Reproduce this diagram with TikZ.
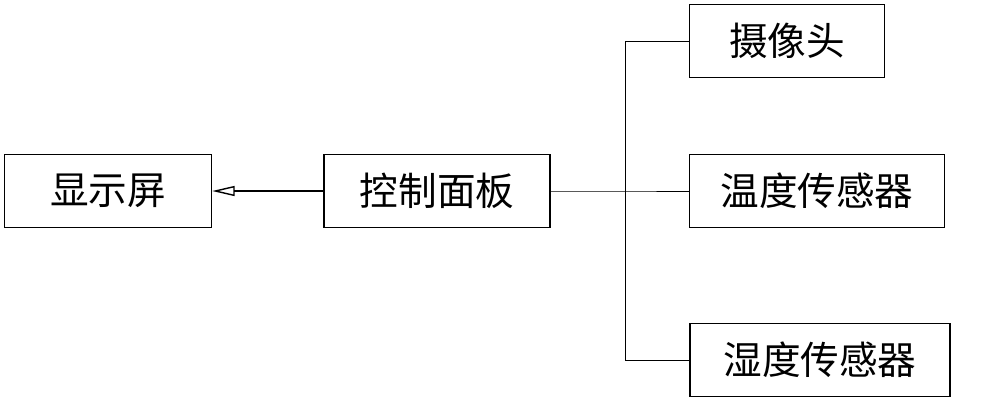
\documentclass[tikz,border=0pt]{standalone}
\usepackage{fontspec}
\newfontfamily\cjk{Noto Sans CJK SC}
\usetikzlibrary{arrows.meta}
\begin{document}
\begin{tikzpicture}[x=0.02cm,y=-0.02cm]
        \tikzset{blk/.style={draw,thick,inner sep=0pt,minimum height=1.46cm,font=\cjk\fontsize{22}{24}\selectfont}}
        \useasboundingbox (0,0) rectangle (1000,403);

        \node [blk,minimum width=4.14cm](disp)at(108,191){显示屏};
        \node [blk,minimum width=4.52cm](ctrl)at(437,191){控制面板};
        \node [blk,minimum width=3.9cm](cam)at(787,41){摄像头};
        \node [blk,minimum width=5.1cm](temp)at(817,191){温度传感器};
        \node [blk,minimum width=5.2cm](hum)at(820,360){湿度传感器};

        \coordinate (jt)at(625,41);
        \coordinate (jm)at(625,191);
        \coordinate (jb)at(625,360);

        \draw [thick,-{Triangle[open,length=0.45cm,width=0.2cm]}] (ctrl) -- (disp);
        \draw (ctrl) -- (jm) -- (temp);
        \draw (cam) -- (jt) -- (jb) -- (hum);
    \end{tikzpicture}
\end{document}
